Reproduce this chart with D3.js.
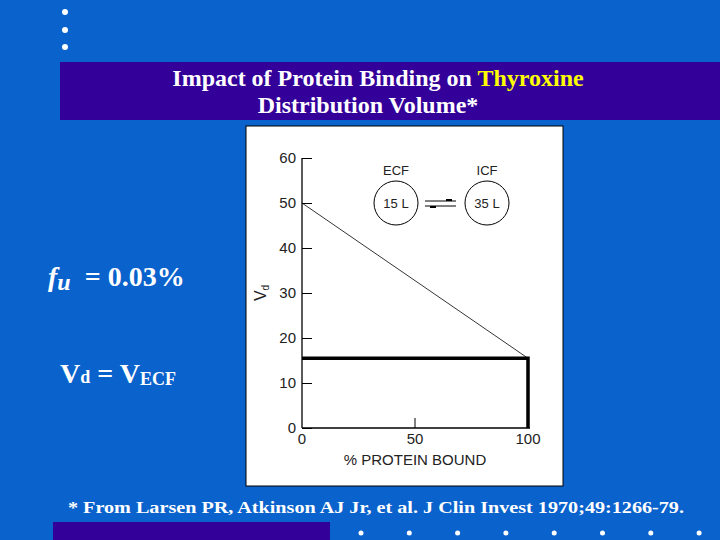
<!DOCTYPE html>
<html><head><meta charset="utf-8">
<script src="https://cdn.jsdelivr.net/npm/d3@7"></script>
<style>body{margin:0;background:#0a62cc}</style></head>
<body><svg id="c" width="720" height="540"></svg>
<script>
const xTicks=[0,50,100];
const yTicks=[0,10,20,30,40,50,60];
const thinLine=[[0,50],[100,15.5]];
const boldLine=[[0,15.5],[100,15.5],[100,0]];
const svg=d3.select("#c");
svg.append("rect").attr("width",720).attr("height",540).attr("fill","#0a62cc");
[12,30,47].forEach(y=>svg.append("circle").attr("cx",65).attr("cy",y).attr("r",3).attr("fill","#fff"));
svg.append("rect").attr("x",60).attr("y",62).attr("width",660).attr("height",58).attr("fill","#330099");
const t=svg.append("text").attr("text-anchor","middle").attr("font-family","Liberation Serif").attr("font-weight","bold").attr("font-size",24).attr("fill","#fff");
t.append("tspan").attr("x",378).attr("y",86).text("Impact of Protein Binding on ");
t.select("tspan").append("tspan").attr("fill","#ffff00").text("Thyroxine");
t.append("tspan").attr("x",368).attr("y",113).text("Distribution Volume*");
svg.append("rect").attr("x",246).attr("y",126).attr("width",317).attr("height",360).attr("fill","#fff").attr("stroke","#000");
const x=d3.scaleLinear().domain([0,100]).range([302,528]);
const y=d3.scaleLinear().domain([0,60]).range([428,158]);
svg.append("g").attr("transform","translate(302,0)").call(d3.axisRight(y).tickValues(yTicks).tickSize(10).tickFormat(""))
 .call(a=>a.select(".domain").remove()).selectAll("line").attr("stroke","#000");
svg.append("line").attr("x1",302).attr("x2",302).attr("y1",158).attr("y2",428).attr("stroke","#000").attr("stroke-width",1.3);
svg.append("line").attr("x1",302).attr("x2",530).attr("y1",428).attr("y2",428).attr("stroke","#000").attr("stroke-width",1.3);
yTicks.forEach(v=>svg.append("text").attr("x",296).attr("y",y(v)+5).attr("text-anchor","end").attr("font-family","Liberation Sans").attr("font-size",15).attr("fill","#222").text(v));
xTicks.forEach(v=>{svg.append("text").attr("x",x(v)).attr("y",444).attr("text-anchor","middle").attr("font-family","Liberation Sans").attr("font-size",15).attr("fill","#222").text(v);
 if(v==50)svg.append("line").attr("x1",x(v)).attr("x2",x(v)).attr("y1",428).attr("y2",418).attr("stroke","#000");});
svg.append("text").attr("x",415).attr("y",465).attr("text-anchor","middle").attr("font-family","Liberation Sans").attr("font-size",15).attr("fill","#222").text("% PROTEIN BOUND");
const vd=svg.append("text").attr("transform","translate(266,293) rotate(-90)").attr("text-anchor","middle").attr("font-family","Liberation Sans").attr("font-size",16).attr("fill","#222");
vd.append("tspan").text("V");vd.append("tspan").attr("font-size",10).attr("dy",3).text("d");
const ln=d3.line().x(d=>x(d[0])).y(d=>y(d[1]));
svg.append("path").attr("d",ln(thinLine)).attr("stroke","#000").attr("stroke-width",0.8).attr("fill","none");
svg.append("path").attr("d",ln(boldLine)).attr("stroke","#000").attr("stroke-width",3.5).attr("fill","none");
[[396,"ECF","15 L"],[487,"ICF","35 L"]].forEach(([cx,a,b])=>{
 svg.append("circle").attr("cx",cx).attr("cy",203).attr("r",22).attr("fill","none").attr("stroke","#000");
 svg.append("text").attr("x",cx).attr("y",175).attr("text-anchor","middle").attr("font-family","Liberation Sans").attr("font-size",13).attr("fill","#222").text(a);
 svg.append("text").attr("x",cx).attr("y",208).attr("text-anchor","middle").attr("font-family","Liberation Sans").attr("font-size",13).attr("fill","#222").text(b);});
svg.append("line").attr("x1",425).attr("x2",456).attr("y1",201).attr("y2",201).attr("stroke","#000");
svg.append("line").attr("x1",425).attr("x2",456).attr("y1",206).attr("y2",206).attr("stroke","#000");
svg.append("rect").attr("x",430).attr("y",206).attr("width",6).attr("height",2).attr("fill","#000");
svg.append("rect").attr("x",446).attr("y",199).attr("width",6).attr("height",2).attr("fill","#000");
const s="Liberation Serif";
const fu=svg.append("text").attr("x",48).attr("y",286).attr("font-family",s).attr("font-weight","bold").attr("font-size",28).attr("fill","#fff");
fu.append("tspan").attr("font-style","italic").text("f");fu.append("tspan").attr("font-style","italic").attr("font-size",24).attr("dy",4).text("u");
fu.append("tspan").attr("dy",-4).attr("xml:space","preserve").attr("dx",14).text("= 0.03%");
const v=svg.append("text").attr("x",60).attr("y",383).attr("font-family",s).attr("font-weight","bold").attr("font-size",28).attr("fill","#fff");
v.append("tspan").text("V");v.append("tspan").attr("font-size",18).text("d");v.append("tspan").text(" = V");
v.append("tspan").attr("font-size",18).attr("dy",2).text("ECF");
svg.append("text").attr("x",68).attr("y",513).attr("font-family",s).attr("font-weight","bold").attr("font-size",17).attr("fill","#fff").attr("textLength",616).attr("lengthAdjust","spacingAndGlyphs").text("* From Larsen PR, Atkinson AJ Jr, et al. J Clin Invest 1970;49:1266-79.");
svg.append("rect").attr("x",53).attr("y",522).attr("width",277).attr("height",18).attr("fill","#330099");
d3.range(8).forEach(i=>svg.append("circle").attr("cx",361+i*48.3).attr("cy",533).attr("r",2.5).attr("fill","#fff"));
</script></body></html>
